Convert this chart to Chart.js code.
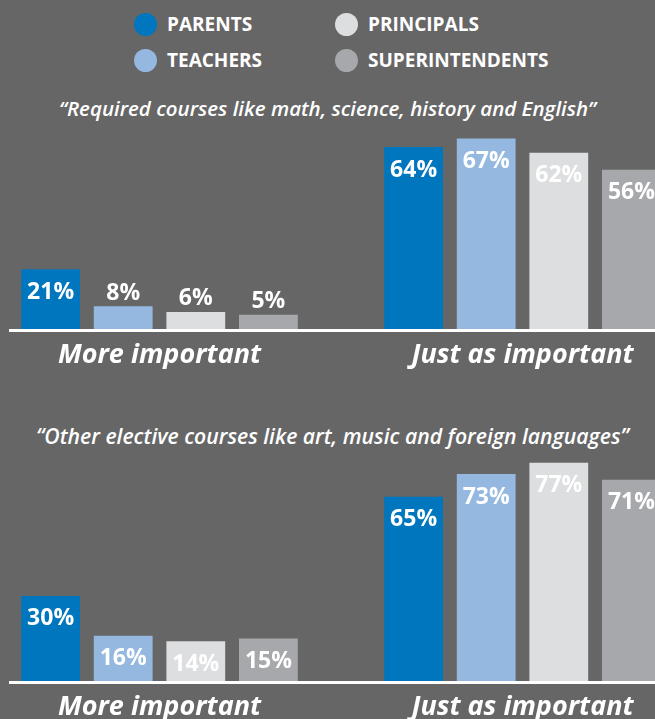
<!DOCTYPE html>
<html lang="en">
<head>
    <meta charset="UTF-8">
    <title>Required vs elective courses</title>
    <script src="https://cdn.jsdelivr.net/npm/chart.js@4/dist/chart.umd.min.js"></script>
    <style>
        body {
            margin: 0;
            background-color: #666666;
            font-family: 'Open Sans', Arial, sans-serif;
            color: #fff;
        }
        .page {
            position: relative;
            width: 655px;
            height: 719px;
            overflow: hidden;
        }
        .legend-item {
            position: absolute;
            display: flex;
            align-items: center;
            font-size: 19px;
            font-weight: 700;
            height: 24px;
        }
        .legend-dot {
            width: 23px;
            height: 23px;
            border-radius: 50%;
            margin-right: 10px;
        }
        .subtitle {
            position: absolute;
            left: 0;
            width: 655px;
            text-align: center;
            font-size: 20.5px;
            font-weight: 600;
            font-style: italic;
            white-space: nowrap;
        }
        .chart-box {
            position: absolute;
            left: -22px;
            width: 726px;
        }
    </style>
</head>
<body>
<div class="page">
    <div id="legend"></div>
    <div class="subtitle" style="top: 94px;">“Required courses like math, science, history and English”</div>
    <div class="subtitle" style="top: 421px; left: 5px; font-size: 21.2px;">“Other elective courses like art, music and foreign languages”</div>
    <div class="chart-box" style="top: 130px; height: 249px;"><canvas id="required-chart"></canvas></div>
    <div class="chart-box" style="top: 440px; height: 291px;"><canvas id="elective-chart"></canvas></div>
</div>

<script>
    // categories and series
    const categories = ['More important', 'Just as important'];
    const groups = ['PARENTS', 'TEACHERS', 'PRINCIPALS', 'SUPERINTENDENTS'];
    const colors = ['#0076bf', '#94b8df', '#dddee0', '#a7a8ac'];

    // "Required courses like math, science, history and English"
    const requiredParents = [21, 64];
    const requiredTeachers = [8, 67];
    const requiredPrincipals = [6, 62];
    const requiredSuperintendents = [5, 56];

    // "Other elective courses like art, music and foreign languages"
    const electiveParents = [30, 65];
    const electiveTeachers = [16, 73];
    const electivePrincipals = [14, 77];
    const electiveSuperintendents = [15, 71];

    // legend (2 x 2)
    const legendPos = [[134, 12], [134, 48], [335, 12], [335, 48]];
    const legend = document.getElementById('legend');
    groups.forEach((name, i) => {
        const item = document.createElement('div');
        item.className = 'legend-item';
        item.style.left = legendPos[i][0] + 'px';
        item.style.top = legendPos[i][1] + 'px';
        const dot = document.createElement('div');
        dot.className = 'legend-dot';
        dot.style.backgroundColor = colors[i];
        const text = document.createElement('span');
        text.textContent = name;
        item.appendChild(dot);
        item.appendChild(text);
        legend.appendChild(item);
    });

    // value labels + white baseline
    const barDecor = {
        id: 'barDecor',
        afterDatasetsDraw(chart) {
            const ctx = chart.ctx;
            const area = chart.chartArea;
            ctx.save();
            ctx.fillStyle = '#ffffff';
            ctx.fillRect(31, area.bottom, chart.width - 31, 3);
            ctx.font = 'bold 23px "Open Sans"';
            ctx.textAlign = 'center';
            ctx.textBaseline = 'middle';
            chart.data.datasets.forEach((ds, di) => {
                chart.getDatasetMeta(di).data.forEach((bar, i) => {
                    const v = ds.data[i];
                    const y = v >= 10 ? bar.y + 23 : bar.y - 13;
                    ctx.fillText(v + '%', bar.x, y);
                });
            });
            ctx.restore();
        }
    };

    function makeChart(id, series, yMax) {
        return new Chart(document.getElementById(id), {
            type: 'bar',
            data: {
                labels: categories,
                datasets: series.map((data, i) => ({
                    label: groups[i],
                    data: data,
                    backgroundColor: colors[i],
                    borderWidth: 0,
                    categoryPercentage: 0.8,
                    barPercentage: 0.81
                }))
            },
            options: {
                responsive: true,
                maintainAspectRatio: false,
                animation: false,
                layout: { padding: 0 },
                plugins: {
                    legend: { display: false },
                    tooltip: { enabled: false }
                },
                scales: {
                    x: {
                        grid: { display: false },
                        border: { display: false },
                        ticks: {
                            color: '#ffffff',
                            padding: 2,
                            font: { family: 'Open Sans', size: 27, weight: 'bold', style: 'italic' }
                        },
                        afterFit(scale) { scale.height = 50; }
                    },
                    y: {
                        display: false,
                        min: 0,
                        max: yMax
                    }
                }
            },
            plugins: [barDecor]
        });
    }

    makeChart('required-chart',
        [requiredParents, requiredTeachers, requiredPrincipals, requiredSuperintendents], 70);
    makeChart('elective-chart',
        [electiveParents, electiveTeachers, electivePrincipals, electiveSuperintendents], 85);
</script>
</body>
</html>
